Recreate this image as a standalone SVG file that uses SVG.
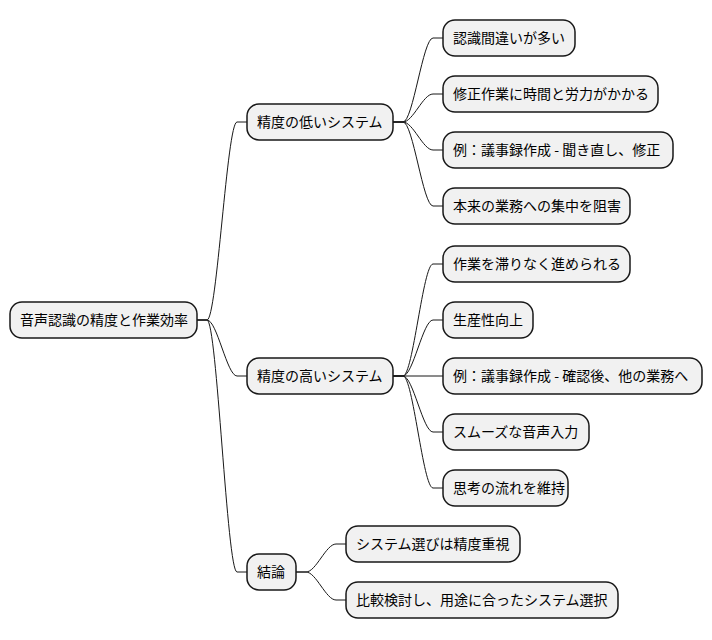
<svg xmlns="http://www.w3.org/2000/svg" width="712" height="640" viewBox="0 0 712 640">
<style>
.n rect{fill:#F1F1F1;stroke:#181818;stroke-width:1.5}
.n text{font-family:"Noto Sans CJK JP","Noto Sans",sans-serif;font-size:14px;fill:#000}
#edges path{fill:none;stroke:#181818;stroke-width:1}
</style>
<rect width="712" height="640" fill="#FFFFFF"/>
<g id="edges">
<path d="M197,320 L207,320 C217,320 227,122 237,122 L247,122"/>
<path d="M197,320 L207,320 C217,320 227,376 237,376 L247,376"/>
<path d="M197,320 L207,320 C217,320 227,572 237,572 L247,572"/>
<path d="M393,122 L403,122 C413,122 423,38 433,38 L443,38"/>
<path d="M393,122 L403,122 C413,122 423,94 433,94 L443,94"/>
<path d="M393,122 L403,122 C413,122 423,150 433,150 L443,150"/>
<path d="M393,122 L403,122 C413,122 423,206 433,206 L443,206"/>
<path d="M393,376 L403,376 C413,376 423,264 433,264 L443,264"/>
<path d="M393,376 L403,376 C413,376 423,320 433,320 L443,320"/>
<path d="M393,376 L443,376"/>
<path d="M393,376 L403,376 C413,376 423,432 433,432 L443,432"/>
<path d="M393,376 L403,376 C413,376 423,488 433,488 L443,488"/>
<path d="M296,572 L306,572 C316,572 326,544 336,544 L346,544"/>
<path d="M296,572 L306,572 C316,572 326,600 336,600 L346,600"/>
</g>
<g id="root" class="n"><rect x="10" y="302" width="187" height="36" rx="12"/><text x="20" y="325">音声認識の精度と作業効率</text></g>
<g id="low" class="n"><rect x="247" y="104" width="146" height="36" rx="12"/><text x="257" y="127">精度の低いシステム</text></g>
<g id="high" class="n"><rect x="247" y="358" width="146" height="36" rx="12"/><text x="257" y="381">精度の高いシステム</text></g>
<g id="concl" class="n"><rect x="247" y="554" width="49" height="36" rx="12"/><text x="257" y="577">結論</text></g>
<g id="low1" class="n"><rect x="443" y="20" width="132" height="36" rx="12"/><text x="453" y="43">認識間違いが多い</text></g>
<g id="low2" class="n"><rect x="443" y="76" width="215" height="36" rx="12"/><text x="453" y="99">修正作業に時間と労力がかかる</text></g>
<g id="low3" class="n"><rect x="443" y="132" width="230" height="36" rx="12"/><text x="453" y="155">例：議事録作成 - 聞き直し、修正</text></g>
<g id="low4" class="n"><rect x="443" y="188" width="187" height="36" rx="12"/><text x="453" y="211">本来の業務への集中を阻害</text></g>
<g id="high1" class="n"><rect x="443" y="246" width="187" height="36" rx="12"/><text x="453" y="269">作業を滞りなく進められる</text></g>
<g id="high2" class="n"><rect x="443" y="302" width="90" height="36" rx="12"/><text x="453" y="325">生産性向上</text></g>
<g id="high3" class="n"><rect x="443" y="358" width="259" height="36" rx="12"/><text x="453" y="381">例：議事録作成 - 確認後、他の業務へ</text></g>
<g id="high4" class="n"><rect x="443" y="414" width="146" height="36" rx="12"/><text x="453" y="437">スムーズな音声入力</text></g>
<g id="high5" class="n"><rect x="443" y="470" width="125" height="36" rx="12"/><text x="453" y="493">思考の流れを維持</text></g>
<g id="concl1" class="n"><rect x="346" y="526" width="174" height="36" rx="12"/><text x="356" y="549">システム選びは精度重視</text></g>
<g id="concl2" class="n"><rect x="346" y="582" width="272" height="36" rx="12"/><text x="356" y="605">比較検討し、用途に合ったシステム選択</text></g>
</svg>
